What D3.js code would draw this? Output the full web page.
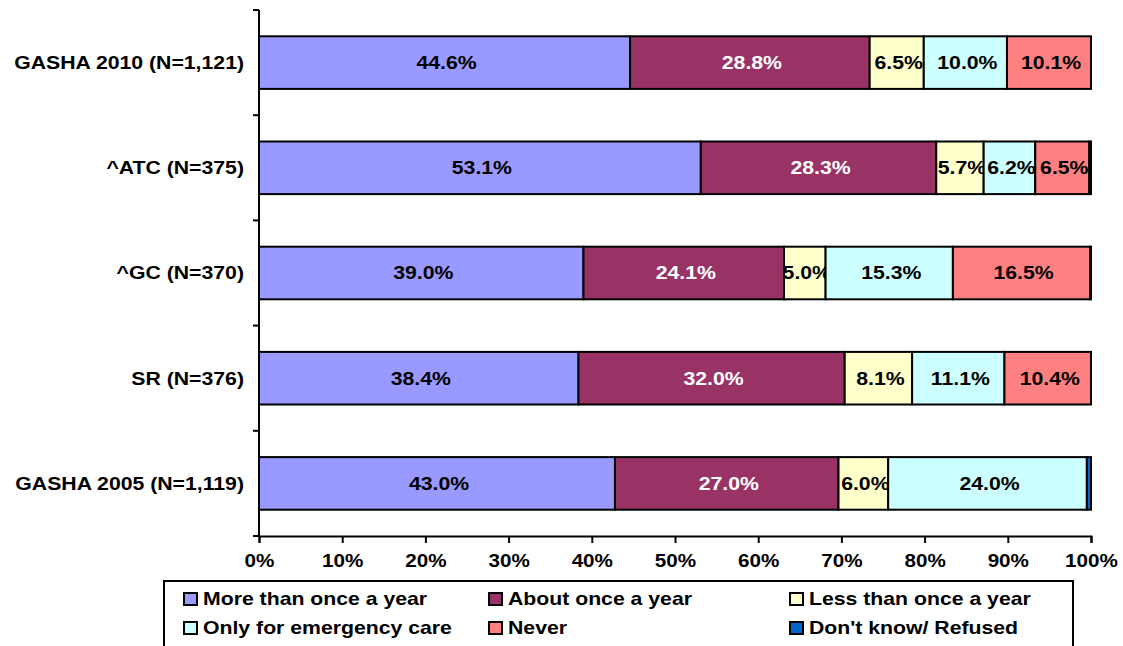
<!DOCTYPE html>
<html>
<head>
<meta charset="utf-8">
<script src="https://cdn.jsdelivr.net/npm/d3@7"></script>
<style>
  body { margin: 0; background: #fff; }
  svg { display: block; font-family: "Liberation Sans", Arial, sans-serif; font-weight: bold; }
</style>
</head>
<body>
<svg id="chart" width="1123" height="646"></svg>
<script>
// Survey groups, top to bottom
const categories = ["GASHA 2010 (N=1,121)", "^ATC (N=375)", "^GC (N=370)", "SR (N=376)", "GASHA 2005 (N=1,119)"];
// Response shares (%) per group
const moreThanOnce = [44.6, 53.1, 39.0, 38.4, 43.0];
const aboutOnce    = [28.8, 28.3, 24.1, 32.0, 27.0];
const lessThanOnce = [6.5, 5.7, 5.0, 8.1, 6.0];
const emergency    = [10.0, 6.2, 15.3, 11.1, 24.0];
const never        = [10.1, 6.5, 16.5, 10.4, 0];
const dontKnow     = [0, 0.2, 0.1, 0, 0.5];
const seriesNames = ["More than once a year", "About once a year", "Less than once a year",
                     "Only for emergency care", "Never", "Don't know/ Refused"];
const tickValues = [0, 10, 20, 30, 40, 50, 60, 70, 80, 90, 100];

const seriesValues = [moreThanOnce, aboutOnce, lessThanOnce, emergency, never, dontKnow];
const colors = ["#9999FF", "#993366", "#FFFFCC", "#CCFFFF", "#FF8080", "#0066CC"];
const labelColors = ["#000", "#fff", "#000", "#000", "#000", "#fff"];

const FONT = 18, STRETCH = 1.18; // slightly wide lettering

const svg = d3.select("#chart");
const plotLeft = 259, plotRight = 1091, plotTop = 10, plotBottom = 536;

const x = d3.scaleLinear().domain([0, 100]).range([plotLeft, plotRight]);
const y = d3.scaleBand().domain(categories).range([plotTop, plotBottom]).paddingInner(0.5).paddingOuter(0.25);

// Text placed at (tx, ty) with wide lettering
function wideText(parent, tx, ty, str, anchor) {
  return parent.append("text")
    .attr("transform", `translate(${tx},${ty}) scale(${STRETCH},1)`)
    .attr("text-anchor", anchor).attr("dy", "0.36em")
    .attr("font-size", FONT).text(str);
}

// Build 100%-stacked rows
const rows = categories.map((c, i) => {
  const row = { cat: c };
  seriesNames.forEach((s, k) => row[s] = seriesValues[k][i]);
  return row;
});
const stack = d3.stack().keys(seriesNames).offset(d3.stackOffsetExpand);
const layers = stack(rows);

// Bars
const g = svg.append("g");
layers.forEach((layer, k) => {
  const lg = g.append("g");
  layer.forEach((d, i) => {
    const v = seriesValues[k][i];
    if (v <= 0) return;
    const x0 = x(d[0] * 100), x1 = x(d[1] * 100);
    lg.append("rect")
      .attr("x", x0).attr("y", y(categories[i]))
      .attr("width", x1 - x0).attr("height", y.bandwidth())
      .attr("fill", colors[k]).attr("stroke", "#000").attr("stroke-width", 2);
    if (v >= 1) {
      wideText(lg, (x0 + x1) / 2 + 2, y(categories[i]) + y.bandwidth() / 2, v.toFixed(1) + "%", "middle")
        .attr("fill", labelColors[k]);
    }
  });
});

// Y axis: line, boundary ticks, category labels
const ya = svg.append("g");
ya.append("line").attr("x1", plotLeft).attr("x2", plotLeft).attr("y1", plotTop).attr("y2", plotBottom)
  .attr("stroke", "#000").attr("stroke-width", 2);
const step = y.step();
d3.range(categories.length + 1).forEach(j => {
  const yy = plotTop + j * step;
  ya.append("line").attr("x1", plotLeft - 6).attr("x2", plotLeft).attr("y1", yy).attr("y2", yy)
    .attr("stroke", "#000").attr("stroke-width", 2);
});
categories.forEach(c => {
  wideText(ya, 244, y(c) + y.bandwidth() / 2, c, "end");
});

// X axis
const xa = svg.append("g").attr("transform", `translate(0,${plotBottom})`)
  .call(d3.axisBottom(x).tickValues(tickValues).tickFormat(d => d + "%").tickSize(7).tickPadding(12));
xa.select(".domain").attr("stroke", "#000").attr("stroke-width", 2);
xa.selectAll(".tick line").attr("stroke", "#000").attr("stroke-width", 2);
xa.selectAll(".tick text").attr("font-size", 17.5).attr("font-family", "Liberation Sans, Arial, sans-serif")
  .attr("font-weight", "bold").attr("fill", "#000")
  .attr("transform", `scale(${STRETCH},1)`);

// Legend
const leg = svg.append("g");
leg.append("rect").attr("x", 164).attr("y", 581).attr("width", 909).attr("height", 70)
  .attr("fill", "#fff").attr("stroke", "#000").attr("stroke-width", 2);
const colX = [184, 489, 790], rowY = [599, 628];
seriesNames.forEach((s, k) => {
  const cx = colX[k % 3], cy = rowY[Math.floor(k / 3)];
  leg.append("rect").attr("x", cx).attr("y", cy - 6).attr("width", 13).attr("height", 12)
    .attr("fill", colors[k]).attr("stroke", "#000").attr("stroke-width", 2);
  wideText(leg, cx + 19, cy, s, "start");
});
</script>
</body>
</html>
